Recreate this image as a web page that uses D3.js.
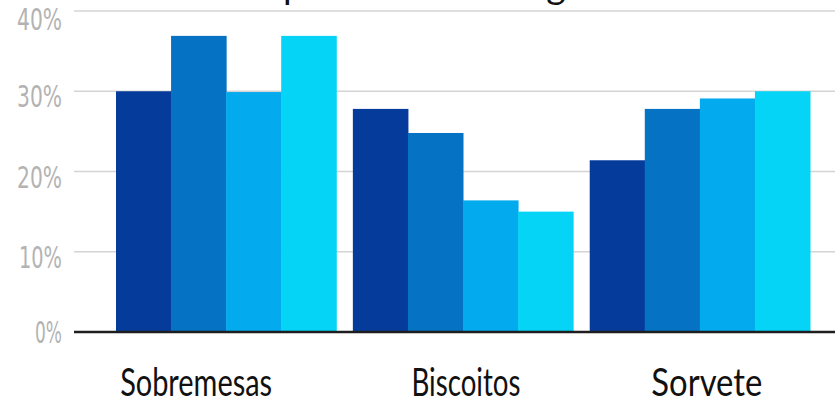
<!DOCTYPE html>
<html>
<head>
<meta charset="utf-8">
<script src="https://cdn.jsdelivr.net/npm/d3@7"></script>
<style>
  html, body { margin: 0; padding: 0; background: #ffffff; overflow: hidden; }
  svg { display: block; }
</style>
</head>
<body>
<svg id="chart" width="835" height="405"></svg>
<script>
// Chart data
const categories = ["Sobremesas", "Biscoitos", "Sorvete"];
const seriesNames = ["Série 1", "Série 2", "Série 3", "Série 4"];
const sobremesas = [30.0, 36.9, 29.9, 36.9];
const biscoitos = [27.8, 24.8, 16.4, 15.0];
const sorvete = [21.4, 27.8, 29.1, 30.0];
const yTicks = [0, 10, 20, 30, 40];
const title = "Comparativo de categorias";

const values = [sobremesas, biscoitos, sorvete];
const colors = ["#053c9c", "#0572c3", "#03abee", "#05d4f6"];

const svg = d3.select("#chart");

const plotLeft = 74, plotRight = 835;
const y = d3.scaleLinear().domain([0, 40]).range([332, 11]);

const x0 = d3.scaleBand().domain(categories).range([116, 810]).paddingInner(0.07).paddingOuter(0);
const x1 = d3.scaleBand().domain(seriesNames).range([0, x0.bandwidth()]).padding(0);

// Title (sits mostly above the visible area)
const t = svg.append("text")
  .attr("y", -1)
  .attr("font-family", "Lato, 'Open Sans', sans-serif")
  .attr("font-size", 37.4)
  .attr("fill", "#111")
  .text(title);
const pre = t.node().getSubStringLength(0, 3);
t.attr("x", 283 - pre);

// Horizontal gridlines
svg.append("g")
  .selectAll("line")
  .data(yTicks.filter(d => d > 0))
  .join("line")
  .attr("x1", plotLeft).attr("x2", plotRight)
  .attr("y1", d => y(d)).attr("y2", d => y(d))
  .attr("stroke", "#d4d4d4")
  .attr("stroke-width", 1.5);

// Y tick labels (the top one sits a little lower so it stays inside the frame)
svg.append("g")
  .selectAll("text")
  .data(yTicks)
  .join("text")
  .attr("x", 62)
  .attr("y", d => y(d) + (d === 0 ? 0 : (d === 40 ? 8 : 5)))
  .attr("dy", "0.36em")
  .attr("text-anchor", "end")
  .attr("font-family", "'Liberation Sans Narrow', 'DejaVu Sans Condensed', sans-serif")
  .attr("font-size", 31)
  .attr("fill", "#b3b3b3")
  .attr("textLength", d => d === 0 ? 27 : (d === 10 ? 43 : 45))
  .attr("lengthAdjust", "spacingAndGlyphs")
  .text(d => d + "%");

// Bars
const groups = svg.append("g")
  .selectAll("g")
  .data(categories)
  .join("g")
  .attr("transform", d => `translate(${x0(d)},0)`);

groups.selectAll("rect")
  .data((d, i) => values[i].map((v, j) => ({ key: seriesNames[j], value: v, idx: j })))
  .join("rect")
  .attr("x", d => x1(d.key))
  .attr("y", d => y(d.value))
  .attr("width", x1.bandwidth() + 0.5)
  .attr("height", d => y(0) - y(d.value))
  .attr("fill", d => colors[d.idx]);

// Baseline
svg.append("line")
  .attr("x1", plotLeft).attr("x2", plotRight)
  .attr("y1", y(0)).attr("y2", y(0))
  .attr("stroke", "#1e1e1e")
  .attr("stroke-width", 2.5);

// Category labels
const labelShift = [-30, 3, 7];
const labelWidth = [152, 109, 111];
svg.append("g")
  .selectAll("text")
  .data(categories)
  .join("text")
  .attr("x", (d, i) => x0(d) + x0.bandwidth() / 2 + labelShift[i])
  .attr("y", 396)
  .attr("text-anchor", "middle")
  .attr("font-family", "Lato, 'Open Sans', sans-serif")
  .attr("font-size", 39)
  .attr("fill", "#111")
  .attr("textLength", (d, i) => labelWidth[i])
  .attr("lengthAdjust", "spacingAndGlyphs")
  .text(d => d);
</script>
</body>
</html>
